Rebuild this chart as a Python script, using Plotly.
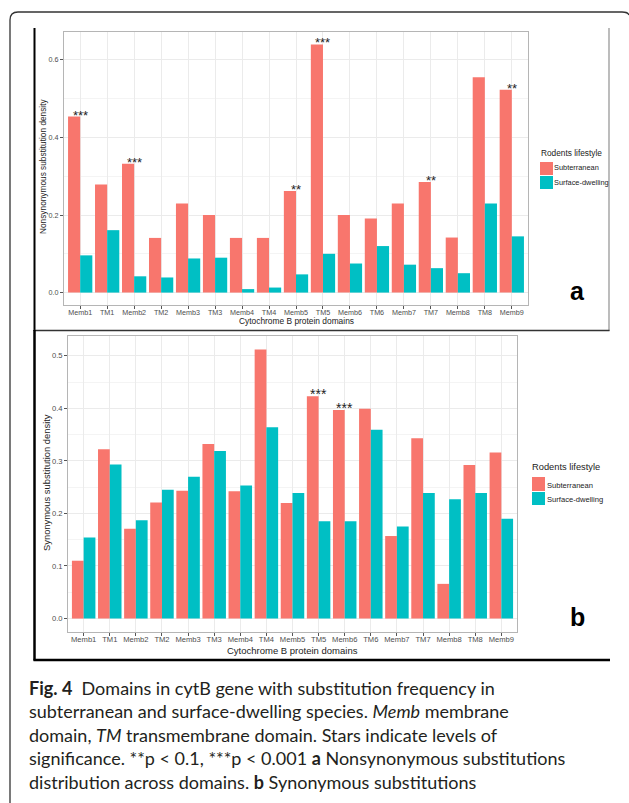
import plotly.graph_objects as go

# ---------------- data ----------------
domains = ["Memb1", "TM1", "Memb2", "TM2", "Memb3", "TM3", "Memb4", "TM4", "Memb5",
           "TM5", "Memb6", "TM6", "Memb7", "TM7", "Memb8", "TM8", "Memb9"]
series_names = ["Subterranean", "Surface-dwelling"]

# panel a: nonsynonymous substitution density
nonsyn_sub = [0.454, 0.279, 0.332, 0.141, 0.230, 0.200, 0.141, 0.141, 0.262,
              0.640, 0.200, 0.191, 0.230, 0.285, 0.142, 0.555, 0.523]
nonsyn_surf = [0.096, 0.161, 0.042, 0.039, 0.088, 0.090, 0.009, 0.013, 0.047,
               0.100, 0.075, 0.120, 0.072, 0.063, 0.050, 0.230, 0.145]
nonsyn_sig = ["***", "", "***", "", "", "", "", "", "**",
              "***", "", "", "", "**", "", "", "**"]

# panel b: synonymous substitution density
syn_sub = [0.110, 0.322, 0.171, 0.221, 0.243, 0.332, 0.242, 0.512, 0.220,
           0.423, 0.397, 0.399, 0.157, 0.343, 0.066, 0.292, 0.316]
syn_surf = [0.154, 0.293, 0.187, 0.245, 0.270, 0.319, 0.253, 0.364, 0.239,
            0.185, 0.185, 0.359, 0.175, 0.239, 0.227, 0.239, 0.190]
syn_sig = ["", "", "", "", "", "", "", "", "",
           "***", "***", "", "", "", "", "", ""]

a_yticks = [0.0, 0.2, 0.4, 0.6]
b_yticks = [0.0, 0.1, 0.2, 0.3, 0.4, 0.5]

# ---------------- styling ----------------
W, H = 629, 803
RED, TEAL = "#F8766D", "#00BFC4"
FONT = "Liberation Sans, Arial, sans-serif"


def px(x):
    return x / W


def py(y):
    return 1 - y / H


fig = go.Figure()

fig.add_trace(go.Bar(x=domains, y=nonsyn_sub, name=series_names[0], marker_color=RED,
                     marker_line_width=0, xaxis="x", yaxis="y", showlegend=False))
fig.add_trace(go.Bar(x=domains, y=nonsyn_surf, name=series_names[1], marker_color=TEAL,
                     marker_line_width=0, xaxis="x", yaxis="y", showlegend=False))
fig.add_trace(go.Bar(x=domains, y=syn_sub, name=series_names[0], marker_color=RED,
                     marker_line_width=0, xaxis="x2", yaxis="y2", showlegend=False))
fig.add_trace(go.Bar(x=domains, y=syn_surf, name=series_names[1], marker_color=TEAL,
                     marker_line_width=0, xaxis="x2", yaxis="y2", showlegend=False))

tick_font_a = dict(family=FONT, size=7.2, color="#4D4D4D")
tick_font_b = dict(family=FONT, size=7.6, color="#4D4D4D")
common_x = dict(type="category", range=[-0.6, len(domains) - 0.4], showgrid=True,
                gridcolor="#EBEBEB", gridwidth=1, ticks="outside", ticklen=3,
                tickcolor="#555", tickwidth=0.8, showline=True, mirror=True,
                linecolor="#B5B5B5", linewidth=1, zeroline=False)
common_y = dict(showgrid=True, gridcolor="#EBEBEB", gridwidth=1, ticks="outside",
                ticklen=3, tickcolor="#555", tickwidth=0.8, showline=True, mirror=True,
                linecolor="#B5B5B5", linewidth=1, zeroline=False, tickformat=".1f")

fig.update_layout(
    width=W, height=H, margin=dict(l=0, r=0, t=0, b=0),
    paper_bgcolor="white", plot_bgcolor="white",
    barmode="group", bargap=0.1, bargroupgap=0,
    font=dict(family=FONT, color="#222"),
    showlegend=False,
    xaxis=dict(domain=[px(64), px(528)], anchor="y", tickfont=tick_font_a,
               ticklabelstandoff=-3, **common_x),
    yaxis=dict(domain=[py(305), py(32)], anchor="x", range=[-0.032, 0.672],
               tickvals=a_yticks, tickfont=tick_font_a,
               minor=dict(dtick=0.1, tick0=0, showgrid=True, gridcolor="#F4F4F4",
                          gridwidth=0.6, ticks=""), **common_y),
    xaxis2=dict(domain=[px(68), px(517)], anchor="y2", tickfont=tick_font_b,
                ticklabelstandoff=-3, **common_x),
    yaxis2=dict(domain=[py(632), py(336)], anchor="x2", range=[-0.0256, 0.5376],
                tickvals=b_yticks, tickfont=tick_font_b,
                minor=dict(dtick=0.05, tick0=0, showgrid=True, gridcolor="#F4F4F4",
                           gridwidth=0.6, ticks=""), **common_y),
)

ann = []
# significance stars
for d, v, s in zip(domains, nonsyn_sub, nonsyn_sig):
    if s:
        ann.append(dict(x=d, y=v, xref="x", yref="y", text=s, showarrow=False,
                        xanchor="center", yanchor="bottom", yshift=-8,
                        font=dict(family=FONT, size=13, color="#222")))
for d, v, s in zip(domains, syn_sub, syn_sig):
    if s:
        ann.append(dict(x=d, y=v, xref="x2", yref="y2", text=s, showarrow=False,
                        xanchor="center", yanchor="bottom", yshift=-8,
                        font=dict(family=FONT, size=14, color="#222")))


def ptext(x, y, text, size, color="#222", angle=0, xanchor="center", bold=False):
    return dict(x=px(x), y=py(y), xref="paper", yref="paper", text=text, textangle=angle,
                showarrow=False, xanchor=xanchor, yanchor="middle",
                font=dict(family=FONT, size=size, color=color))


# axis titles
ann += [
    ptext(43, 166, "Nonsynonymous substitution density", 8.3, angle=-90),
    ptext(296, 321, "Cytochrome B protein domains", 8.4),
    ptext(47, 483, "Synonymous substitution density", 9.4, angle=-90),
    ptext(292, 650, "Cytochrome B protein domains", 9.5),
]

# legends (drawn manually to match ggplot key layout)
shapes = []


def legend(title_x, title_y, key_x0, key_x1, keys_y, label_x, label_ys, tsize, lsize):
    ann.append(ptext(title_x, title_y, "Rodents lifestyle", tsize, xanchor="left"))
    for (y0, y1), ly, name, col in zip(keys_y, label_ys, series_names, [RED, TEAL]):
        shapes.append(dict(type="rect", xref="paper", yref="paper", x0=px(key_x0), x1=px(key_x1),
                           y0=py(y1), y1=py(y0), fillcolor=col, line=dict(width=0)))
        ann.append(ptext(label_x, ly, name, lsize, xanchor="left"))


legend(539, 153, 540, 553, [(162, 175), (176, 189)], 552, [168, 182], 8.3, 7.4)
legend(530, 467, 532, 545, [(477, 491), (492, 505)], 545, [485, 499], 9.3, 7.6)

# panel letters
ann += [
    ptext(577, 291, "<b>a</b>", 25, color="black"),
    ptext(577, 617, "<b>b</b>", 25, color="black"),
]

# caption
caption = ("<b>Fig. 4</b>  Domains in cytB gene with substitution frequency in<br>"
           "subterranean and surface-dwelling species. <i>Memb</i> membrane<br>"
           "domain, <i>TM</i> transmembrane domain. Stars indicate levels of<br>"
           "significance. **p &lt; 0.1, ***p &lt; 0.001 <b>a</b> Nonsynonymous substitutions<br>"
           "distribution across domains. <b>b</b> Synonymous substitutions")
ann.append(dict(x=px(27), y=py(675), xref="paper", yref="paper", text=caption, showarrow=False,
                xanchor="left", yanchor="top", align="left",
                font=dict(family="Lato, Noto Sans, sans-serif", size=18, color="#231F20")))

# card / panel frame lines
card = (f"M {px(10)},{py(803)} L {px(10)},{py(20)} Q {px(10)},{py(12)} {px(18)},{py(12)} "
        f"L {px(622)},{py(12)} Q {px(628)},{py(12)} {px(629)},{py(15)}")
shapes += [
    dict(type="path", xref="paper", yref="paper", path=card, line=dict(color="#333", width=1.3)),
    dict(type="line", xref="paper", yref="paper", x0=px(34.5), x1=px(34.5), y0=py(28), y1=py(331),
         line=dict(color="black", width=2)),
    dict(type="line", xref="paper", yref="paper", x0=px(609), x1=px(609), y0=py(28), y1=py(331),
         line=dict(color="#999", width=1.3)),
    dict(type="line", xref="paper", yref="paper", x0=px(34), x1=px(609.5), y0=py(330.5), y1=py(330.5),
         line=dict(color="#333", width=1.5)),
    dict(type="line", xref="paper", yref="paper", x0=px(34.5), x1=px(34.5), y0=py(330), y1=py(660.5),
         line=dict(color="black", width=2.5)),
    dict(type="line", xref="paper", yref="paper", x0=px(33.5), x1=px(610), y0=py(660), y1=py(660),
         line=dict(color="black", width=2.5)),
]

fig.update_layout(annotations=ann, shapes=shapes)
# remove the default page margin so the 629x803 figure fills the window exactly
fig.write_html("out.html", config={"displayModeBar": False},
               post_script="document.body.style.margin='0';document.body.style.overflow='hidden';")
